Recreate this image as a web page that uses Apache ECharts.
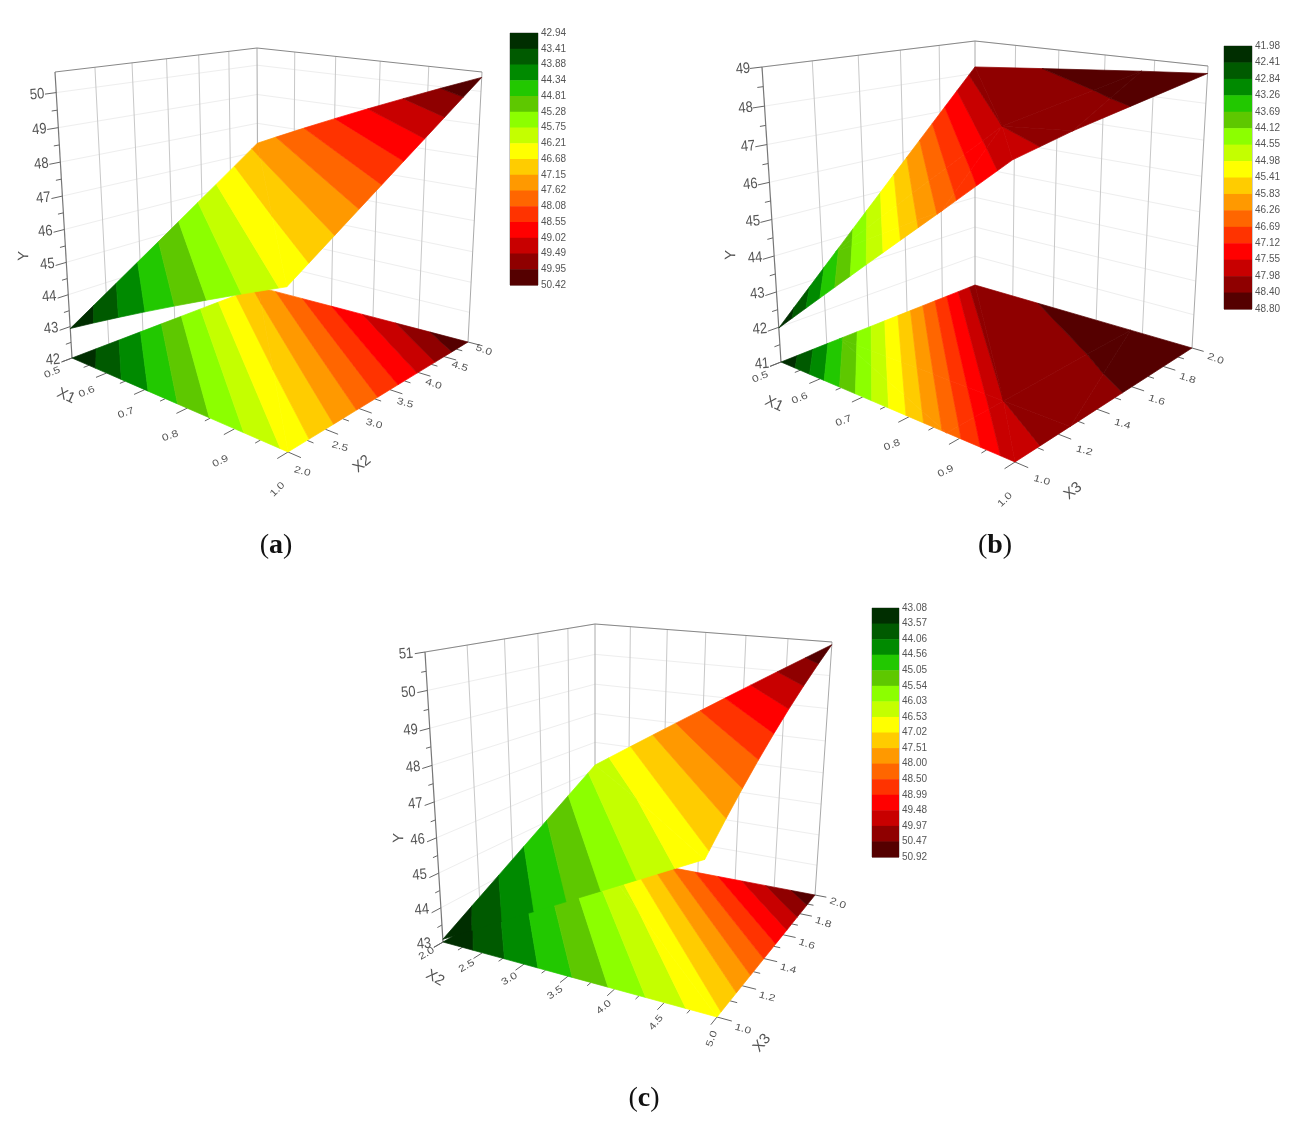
<!DOCTYPE html>
<html><head><meta charset="utf-8">
<style>html,body{margin:0;padding:0;background:#fff}#c{width:1314px;height:1131px;filter:blur(0.45px)}</style>
<script src="https://cdn.jsdelivr.net/npm/echarts@6/dist/echarts.min.js"></script>
</head><body><div id="c"></div>
<script>
// ---- colour bar labels, top to bottom ----
const levelsA = [42.94,43.41,43.88,44.34,44.81,45.28,45.75,46.21,46.68,47.15,47.62,48.08,48.55,49.02,49.49,49.95,50.42];
const levelsB = [41.98,42.41,42.84,43.26,43.69,44.12,44.55,44.98,45.41,45.83,46.26,46.69,47.12,47.55,47.98,48.40,48.80];
const levelsC = [43.08,43.57,44.06,44.56,45.05,45.54,46.03,46.53,47.02,47.51,48.00,48.50,48.99,49.48,49.97,50.47,50.92];
const bandColours = ['#002e00','#005a00','#008a00','#22c800','#5ec800','#8cff00','#c4ff00','#ffff00','#ffcc00','#ff9900','#ff6600','#ff3300','#ff0000','#c80000','#8f0000','#550000'];
// ---- axis ticks ----
const x1Ticks = ['0.5','0.6','0.7','0.8','0.9','1.0'];
const x2Ticks = ['2.0','2.5','3.0','3.5','4.0','4.5','5.0'];
const x3Ticks = ['1.0','1.2','1.4','1.6','1.8','2.0'];
const yTicksA = [42,43,44,45,46,47,48,49,50];
const yTicksB = [41,42,43,44,45,46,47,48,49];
const yTicksC = [43,44,45,46,47,48,49,50,51];
// ---- surface knots (fraction along each floor axis) and Y read at them ----
const knotsAs = [0,1], knotsAt = [0,1];
const surfaceA = [[42.94,47.30],[46.30,50.42]];
const knotsBs = [0,0.75,1], knotsBt = [0,0.26,1];
const surfaceB = [[41.98,43.60,48.20],[46.36,47.98,48.66],[47.85,48.15,48.80]];
const knotsCs = [0,1], knotsCt = [0,1];
const surfaceC = [[43.08,46.20],[46.90,50.92]];

// ---- layout of each panel ----
const panels = [
 {name:'a',sAxis:'X1',tAxis:'X2',sTicks:x1Ticks,tTicks:x2Ticks,yTicks:yTicksA,levels:levelsA,knotsS:knotsAs,knotsT:knotsAt,surf:surfaceA,zMin:42,zMax:50.58,warp:[0,0],
  floor:{l:[72,358],f:[288,452],r:[468,342],b:[258,287]},top:{l:[55,72],b:[257,48],r:[482,72]},
  bar:{left:510,top:33,width:28,height:252},cap:[271,527],
  sTitle:[66,396,-25],tTitle:[362,464,40],yTitle:[24,256,88],
  sRot:[22,22,20,20,25,45],tRot:[-15,-15,-15,-15,-18,-18,-20],yOff:[-19,2],sOff:[-0.085,7,10,18],tOff:[1.06,4,-3,8]},
 {name:'b',sAxis:'X1',tAxis:'X3',sTicks:x1Ticks,tTicks:x3Ticks,yTicks:yTicksB,levels:levelsB,knotsS:knotsBs,knotsT:knotsBt,surf:surfaceB,zMin:41,zMax:49,warp:[0,0],
  floor:{l:[781,362],f:[1015,462],r:[1192,348],b:[975,285]},top:{l:[762,67],b:[975,41],r:[1208,66]},
  bar:{left:1224,top:46,width:28,height:263},cap:[990,527],
  sTitle:[774,404,-25],tTitle:[1073,491,40],yTitle:[731,255,88],
  sRot:[22,22,20,20,25,45],tRot:[-15,-15,-15,-18,-18,-20],yOff:[-19,2],sOff:[-0.085,7,10,18],tOff:[1.09,4,0,3]},
 {name:'c',sAxis:'X2',tAxis:'X3',sTicks:x2Ticks,tTicks:x3Ticks,yTicks:yTicksC,levels:levelsC,knotsS:knotsCs,knotsT:knotsCt,surf:surfaceC,zMin:43,zMax:51,warp:[-28,0],
  floor:{l:[443,942],f:[717,1017],r:[815,895],b:[595,853]},top:{l:[425,652],b:[595,624],r:[832,642]},
  bar:{left:872,top:608,width:27,height:249},cap:[639,1080],
  sTitle:[435,978,-30],tTitle:[762,1043,50],yTitle:[399,838,88],
  sRot:[30,30,30,35,40,50,70],tRot:[-15,-15,-15,-18,-18,-20],yOff:[-19,2],sOff:[-0.08,2,6,6],tOff:[1.09,4,-4,0]}
];
const zBow = 0.07; // Y spacing grows a little towards the top of the box

// ---- projection ----
function squareToQuad(p00,p10,p11,p01){ // s along p00->p10, t along p00->p01
  const dx1=p10[0]-p11[0],dx2=p01[0]-p11[0],sx=p00[0]-p10[0]+p11[0]-p01[0];
  const dy1=p10[1]-p11[1],dy2=p01[1]-p11[1],sy=p00[1]-p10[1]+p11[1]-p01[1];
  const den=dx1*dy2-dx2*dy1;
  const g=(sx*dy2-dx2*sy)/den,h=(dx1*sy-sx*dy1)/den;
  const a=p10[0]-p00[0]+g*p10[0],b=p01[0]-p00[0]+h*p01[0],c=p00[0];
  const d=p10[1]-p00[1]+g*p10[1],e=p01[1]-p00[1]+h*p01[1],f=p00[1];
  const fn=(s,t)=>{const w=g*s+h*t+1;return [(a*s+b*t+c)/w,(d*s+e*t+f)/w];};
  fn.g=g;fn.h=h;return fn;
}
function topPlane(T,g,h,warp){ // same perspective weights as the floor, through the three visible top corners
  const wb=1+h,wr=1+g+h,C=T.l;
  const B=[T.b[0]*wb-C[0],T.b[1]*wb-C[1]];
  const A=[T.r[0]*wr-T.b[0]*wb,T.r[1]*wr-T.b[1]*wb];
  return (s,t)=>{const w=g*s+h*t+1,q=s*(1-t);return [(A[0]*s+B[0]*t+C[0])/w+warp[0]*q,(A[1]*s+B[1]*t+C[1])/w+warp[1]*q];};
}
function makeProjection(P){
  const F=P.floor;
  const lo=squareToQuad(F.l,F.f,F.r,F.b),hi=topPlane(P.top,lo.g,lo.h,P.warp);
  return (s,t,z)=>{let k=(z-P.zMin)/(P.zMax-P.zMin);k=k/(1+zBow*(1-k));const A=lo(s,t),B=hi(s,t);return [A[0]+(B[0]-A[0])*k,A[1]+(B[1]-A[1])*k];};
}
// ---- contour bands from the knots ----
function clip(poly,z0,keepAbove){
  const out=[];
  for(let i=0;i<poly.length;i++){
    const A=poly[i],B=poly[(i+1)%poly.length];
    const ia=keepAbove?A[2]>=z0:A[2]<=z0, ib=keepAbove?B[2]>=z0:B[2]<=z0;
    if(ia)out.push(A);
    if(ia!==ib){const u=(z0-A[2])/(B[2]-A[2]);out.push([A[0]+(B[0]-A[0])*u,A[1]+(B[1]-A[1])*u,z0]);}
  }
  return out;
}
function bands(P){
  const res=[];const S=P.knotsS,K=P.knotsT,Z=P.surf;
  for(let i=0;i<S.length-1;i++)for(let j=0;j<K.length-1;j++){
    const a=[S[i],K[j],Z[i][j]],b=[S[i+1],K[j],Z[i+1][j]],c=[S[i+1],K[j+1],Z[i+1][j+1]],d=[S[i],K[j+1],Z[i][j+1]];
    [[a,b,d],[b,c,d]].forEach(tri=>{
      for(let n=0;n<bandColours.length;n++){
        let p=tri;
        if(n>0)p=clip(p,P.levels[n],true);
        if(p.length&&n<bandColours.length-1)p=clip(p,P.levels[n+1],false);
        if(p.length>=3)res.push({n,pts:p});
      }
    });
  }
  res.sort((x,y)=>x.n-y.n);
  return res;
}
const noAnim={animation:false,silent:true,clip:false,xAxisIndex:0,yAxisIndex:0};
const series=[],grids=[{left:0,top:0,width:1314,height:1131,show:false}];
const xAxes=[{type:'value',min:0,max:1314,show:false,gridIndex:0}],yAxes=[{type:'value',min:0,max:1131,inverse:true,show:false,gridIndex:0}];
const titles=[];

panels.forEach((P,pi)=>{
  const pr=makeProjection(P);
  const ns=P.sTicks.length-1,nt=P.tTicks.length-1;
  // walls
  const lines=[];
  const seg=(A,B,c,w)=>lines.push({A,B,c,w});
  P.yTicks.forEach(z=>{
    if(z>P.zMin&&z<=P.zMax){seg([0,0,z],[0,1,z],'#eeeeee',1);seg([0,1,z],[1,1,z],'#eeeeee',1);}
  });
  for(let i=1;i<nt;i++)seg([0,i/nt,P.zMin],[0,i/nt,P.zMax],'#c8c8c8',1);
  for(let i=1;i<ns;i++)seg([i/ns,1,P.zMin],[i/ns,1,P.zMax],'#c8c8c8',1);
  seg([0,1,P.zMin],[0,1,P.zMax],'#aaaaaa',1);
  seg([1,1,P.zMin],[1,1,P.zMax],'#aaaaaa',1);
  seg([0,0,P.zMax],[0,1,P.zMax],'#888888',1);
  seg([0,1,P.zMax],[1,1,P.zMax],'#888888',1);
  seg([0,0,P.zMin],[0,0,P.zMax],'#777777',1.2);
  // ticks
  const TICK='#666666',len=0.045;
  for(let i=0;i<=2*ns;i++){const s=i/(2*ns),l=i%2?len/2:len;seg([s,0,P.zMin],[s,-l,P.zMin],TICK,1);}
  for(let i=0;i<=2*nt;i++){const t=i/(2*nt),l=i%2?len/2:len;seg([1,t,P.zMin],[1+l,t,P.zMin],TICK,1);}
  P.yTicks.forEach((z,i)=>{
    seg([0,0,z],[0,-len,z],TICK,1);
    if(i<P.yTicks.length-1)seg([0,0,z+.5],[0,-len/2,z+.5],TICK,1);
  });
  series.push(Object.assign({type:'custom',name:'walls '+P.name,data:lines.map((_,i)=>[i,0]),
    renderItem:(params,api)=>{const L=lines[params.dataIndex];
      const a=pr(...L.A),b=pr(...L.B);const p=api.coord(a),q=api.coord(b);
      return {type:'line',shape:{x1:p[0],y1:p[1],x2:q[0],y2:q[1]},style:{stroke:L.c,lineWidth:L.w}};}},noAnim));
  // floor map and surface
  const polys=bands(P);
  const polyRender=(flat)=>(params,api)=>{const it=polys[params.dataIndex];
    const pts=it.pts.map(p=>api.coord(pr(p[0],p[1],flat?P.zMin:p[2])));
    const c=bandColours[it.n];
    return {type:'polygon',shape:{points:pts},style:{fill:c,stroke:c,lineWidth:0.7}};};
  series.push(Object.assign({type:'custom',name:'floor '+P.name,data:polys.map((_,i)=>[i,0]),renderItem:polyRender(true)},noAnim));
  series.push(Object.assign({type:'custom',name:'surface '+P.name,data:polys.map((_,i)=>[i,0]),renderItem:polyRender(false)},noAnim));
  // texts
  const texts=[];
  const TXT='#555555';
  P.yTicks.forEach(z=>{const q=pr(0,0,z);texts.push({text:String(z),x:q[0]+P.yOff[0],y:q[1]+P.yOff[1],rot:5,size:14.5,sx:.9,sy:1.05});});
  P.sTicks.forEach((v,i)=>{const f=i/ns,q=pr(f,P.sOff[0],P.zMin);texts.push({text:v,x:q[0]+P.sOff[2]*f*f,y:q[1]+P.sOff[1]+P.sOff[3]*f,rot:P.sRot[i],size:12,sx:1,sy:.8});});
  P.tTicks.forEach((v,i)=>{const f=i/nt,q=pr(P.tOff[0],f,P.zMin);texts.push({text:v,x:q[0]+P.tOff[2]*(1-f),y:q[1]+P.tOff[1]+P.tOff[3]*(1-f),rot:P.tRot[i],size:12,sx:1,sy:.8});});
  texts.push({text:P.sAxis,x:P.sTitle[0],y:P.sTitle[1],rot:P.sTitle[2],size:15,sx:1,sy:1});
  texts.push({text:P.tAxis,x:P.tTitle[0],y:P.tTitle[1],rot:P.tTitle[2],size:15,sx:1,sy:1});
  texts.push({text:'Y',x:P.yTitle[0],y:P.yTitle[1],rot:P.yTitle[2],size:15,sx:1,sy:1});
  series.push(Object.assign({type:'custom',name:'labels '+P.name,data:texts.map((_,i)=>[i,0]),
    renderItem:(params,api)=>{const T=texts[params.dataIndex];const c=api.coord([T.x,T.y]);
      return {type:'text',x:c[0],y:c[1],rotation:T.rot*Math.PI/180,scaleX:T.sx,scaleY:T.sy,
        style:{text:T.text,fontSize:T.size,fontFamily:'"Liberation Sans",Arial,sans-serif',fill:TXT,align:'center',verticalAlign:'middle'}};}},noAnim));
  // colour bar
  const gi=pi+1;
  grids.push(Object.assign({show:true,borderColor:'#999999',borderWidth:1,backgroundColor:'transparent'},P.bar));
  xAxes.push({type:'value',min:0,max:1,show:false,gridIndex:gi});
  yAxes.push({type:'value',min:0,max:16,interval:1,inverse:true,position:'right',gridIndex:gi,
    axisLine:{show:false},axisTick:{show:false},splitLine:{show:false},
    axisLabel:{show:true,margin:3,fontSize:10,color:'#555',fontFamily:'"Liberation Sans",Arial,sans-serif',showMinLabel:true,showMaxLabel:true,
      formatter:v=>P.levels[Math.round(v)].toFixed(2)}});
  series.push({type:'custom',name:'colour bar '+P.name,xAxisIndex:gi,yAxisIndex:gi,animation:false,silent:true,
    data:bandColours.map((_,i)=>[0,i]),
    renderItem:(params,api)=>{const i=api.value(1);const A=api.coord([0,i]),B=api.coord([1,i+1]);
      return {type:'rect',shape:{x:A[0],y:A[1],width:B[0]-A[0],height:B[1]-A[1]+.5},style:{fill:bandColours[i]}};}});
  titles.push({text:'{n|(}{b|'+P.name+'}{n|)}',left:P.cap[0],top:P.cap[1],textAlign:'center',
    textStyle:{rich:{n:{fontFamily:'"Liberation Serif",serif',fontSize:28,fontWeight:'normal',color:'#111'},b:{fontFamily:'"Liberation Serif",serif',fontSize:28,fontWeight:'bold',color:'#111'}}}});
});
const chart=echarts.init(document.getElementById('c'),null,{renderer:'canvas'});
chart.setOption({animation:false,backgroundColor:'#fff',title:titles,grid:grids,xAxis:xAxes,yAxis:yAxes,series:series,tooltip:{show:false}});
</script></body></html>
